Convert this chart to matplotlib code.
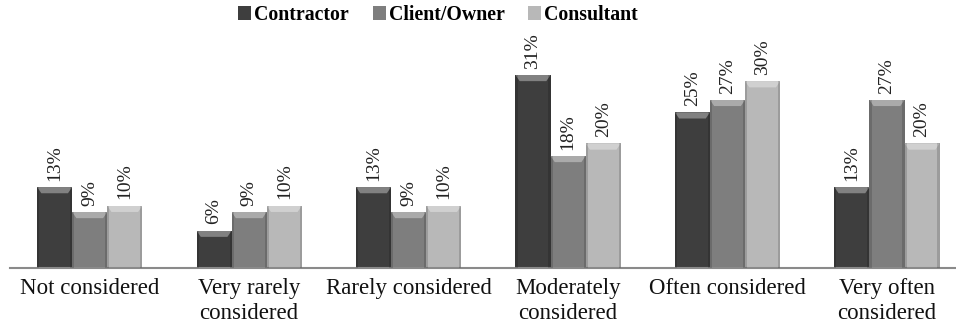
import matplotlib
matplotlib.use("Agg")
import matplotlib.pyplot as plt
from matplotlib.patches import Polygon, Rectangle
import numpy as np

categories = ["Not considered", "Very rarely\nconsidered", "Rarely considered",
              "Moderately\nconsidered", "Often considered", "Very often\nconsidered"]
series_names = ["Contractor", "Client/Owner", "Consultant"]
contractor = [13, 6, 13, 31, 25, 13]
client_owner = [9, 9, 9, 18, 27, 27]
consultant = [10, 10, 10, 20, 30, 20]
colors = ["#3e3e3e", "#7e7e7e", "#b8b8b8"]

plt.rcParams["font.family"] = ["Liberation Serif", "DejaVu Serif"]

fig = plt.figure(figsize=(9.56, 3.29), dpi=100)
ax = fig.add_axes([10 / 956, 1 - 268 / 329, 946 / 956, 218 / 329])

x = np.arange(len(categories))
width = 0.22
offsets = [-width, 0, width]
values = [contractor, client_owner, consultant]

for vals, off, col, name in zip(values, offsets, colors, series_names):
    bars = ax.bar(x + off, vals, width, color=col, label=name, zorder=2)
    for b, v in zip(bars, vals):
        bx, bw, bh = b.get_x(), b.get_width(), b.get_height()
        # bevelled top highlight
        bev_h = 1.0
        inset = bw * 0.12
        ax.add_patch(Polygon([(bx, bh), (bx + bw, bh), (bx + bw - inset, bh - bev_h),
                              (bx + inset, bh - bev_h)], closed=True,
                             facecolor="white", alpha=0.35, lw=0, zorder=3))
        # darker side edges
        sw = bw * 0.06
        ax.add_patch(Rectangle((bx, 0), sw, bh, facecolor="black", alpha=0.15, lw=0, zorder=3))
        ax.add_patch(Rectangle((bx + bw - sw, 0), sw, bh, facecolor="black", alpha=0.15, lw=0, zorder=3))
        ax.text(b.get_x() + bw / 2, bh + 1.0, f"{v}%", rotation=90, ha="center", va="bottom",
                fontsize=14, color="#222222")

ax.set_xlim(-0.5, 5.5 - 10.7 / 159.4)
ax.set_ylim(0, 35)
ax.set_xticks(x)
ax.set_xticklabels(categories, fontsize=16.5, color="#111111", linespacing=1.25)
ax.tick_params(axis="x", length=0, pad=7)
ax.set_yticks([])
for s in ["top", "left", "right"]:
    ax.spines[s].set_visible(False)
ax.spines["bottom"].set_color("#8a8a8a")
ax.spines["bottom"].set_linewidth(1.5)

leg = fig.legend(loc="center", bbox_to_anchor=(438 / 956, 1 - 15 / 329), ncol=3, frameon=False,
                 prop={"weight": "bold", "size": 14.3}, handlelength=0.65, handleheight=0.65,
                 handletextpad=0.15, columnspacing=1.2)

fig.savefig("out.png", dpi=100)
